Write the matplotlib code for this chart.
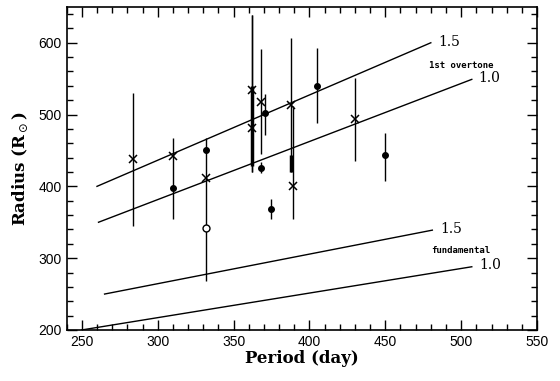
import matplotlib
matplotlib.use("Agg")
import matplotlib.pyplot as plt
from matplotlib.ticker import MultipleLocator

# model lines (period, radius)
over15_p = [260, 480]
over15_r = [400, 600]
over10_p = [261, 507]
over10_r = [350, 549]
fund15_p = [265, 481]
fund15_r = [250, 339]
fund10_p = [250, 507]
fund10_r = [200, 288]

# crosses with error bars
cross_p = [284, 310, 332, 362, 362, 368, 388, 389, 430]
cross_r = [438, 442, 412, 534, 481, 518, 513, 401, 494]
cross_lo = [345, 355, 268, 420, 420, 445, 420, 354, 435]
cross_hi = [530, 468, 468, 638, 638, 591, 606, 512, 551]

# filled dots with error bars
dot_p = [310, 332, 368, 371, 375, 405, 450]
dot_r = [398, 451, 426, 502, 369, 540, 443]
dot_lo = [398, 451, 418, 472, 354, 488, 408]
dot_hi = [398, 451, 434, 528, 383, 593, 475]

# open circle
open_p = [332]
open_r = [342]

# overlapping bars drawn thick
thick_p = [362, 388]
thick_lo = [428, 420]
thick_hi = [540, 444]

fig = plt.figure(figsize=(5.6, 3.81), dpi=100)
ax = fig.add_axes([0.119, 0.134, 0.840, 0.848])

for x, y in [(over15_p, over15_r), (over10_p, over10_r), (fund15_p, fund15_r), (fund10_p, fund10_r)]:
    ax.plot(x, y, color='black', linewidth=1.0)

ax.vlines(cross_p, cross_lo, cross_hi, color='black', linewidth=1.0)
ax.vlines(dot_p, dot_lo, dot_hi, color='black', linewidth=1.0)
ax.vlines(thick_p, thick_lo, thick_hi, color='black', linewidth=2.5)

ax.plot(cross_p, cross_r, 'x', color='black', markersize=6, markeredgewidth=1.1)
ax.plot(dot_p, dot_r, 'o', color='black', markersize=4)
ax.plot(open_p, open_r, 'o', color='black', markerfacecolor='white', markersize=5, markeredgewidth=1.0)

serif = 'DejaVu Serif'
ax.text(485, 601, '1.5', fontsize=10, family=serif, va='center')
ax.text(511, 551, '1.0', fontsize=10, family=serif, va='center')
ax.text(486, 340, '1.5', fontsize=10, family=serif, va='center')
ax.text(512, 290, '1.0', fontsize=10, family=serif, va='center')
ax.text(500, 569, '1st overtone', fontsize=6.5, family='DejaVu Sans Mono', weight='bold', ha='center', va='center')
ax.text(500, 310, 'fundamental', fontsize=6.5, family='DejaVu Sans Mono', weight='bold', ha='center', va='center')

ax.set_xlim(240, 550)
ax.set_ylim(200, 650)
ax.xaxis.set_major_locator(MultipleLocator(50))
ax.xaxis.set_minor_locator(MultipleLocator(10))
ax.yaxis.set_major_locator(MultipleLocator(100))
ax.yaxis.set_minor_locator(MultipleLocator(20))
ax.tick_params(which='both', direction='in', top=True, right=True, width=1.0)
ax.tick_params(which='major', length=7)
ax.tick_params(which='minor', length=4)
ax.tick_params(labelsize=10)
ax.set_yticks([200, 300, 400, 500, 600])
for lab in ax.get_xticklabels() + ax.get_yticklabels():
    lab.set_family('Liberation Sans')
for s in ax.spines.values():
    s.set_linewidth(1.2)

ax.set_xlabel('Period (day)', fontsize=12, family=serif, weight='bold', labelpad=1)
ax.set_ylabel(r'Radius (R$_\odot$)', fontsize=12, family=serif, weight='bold', labelpad=6)

fig.savefig('out.png', dpi=100)
